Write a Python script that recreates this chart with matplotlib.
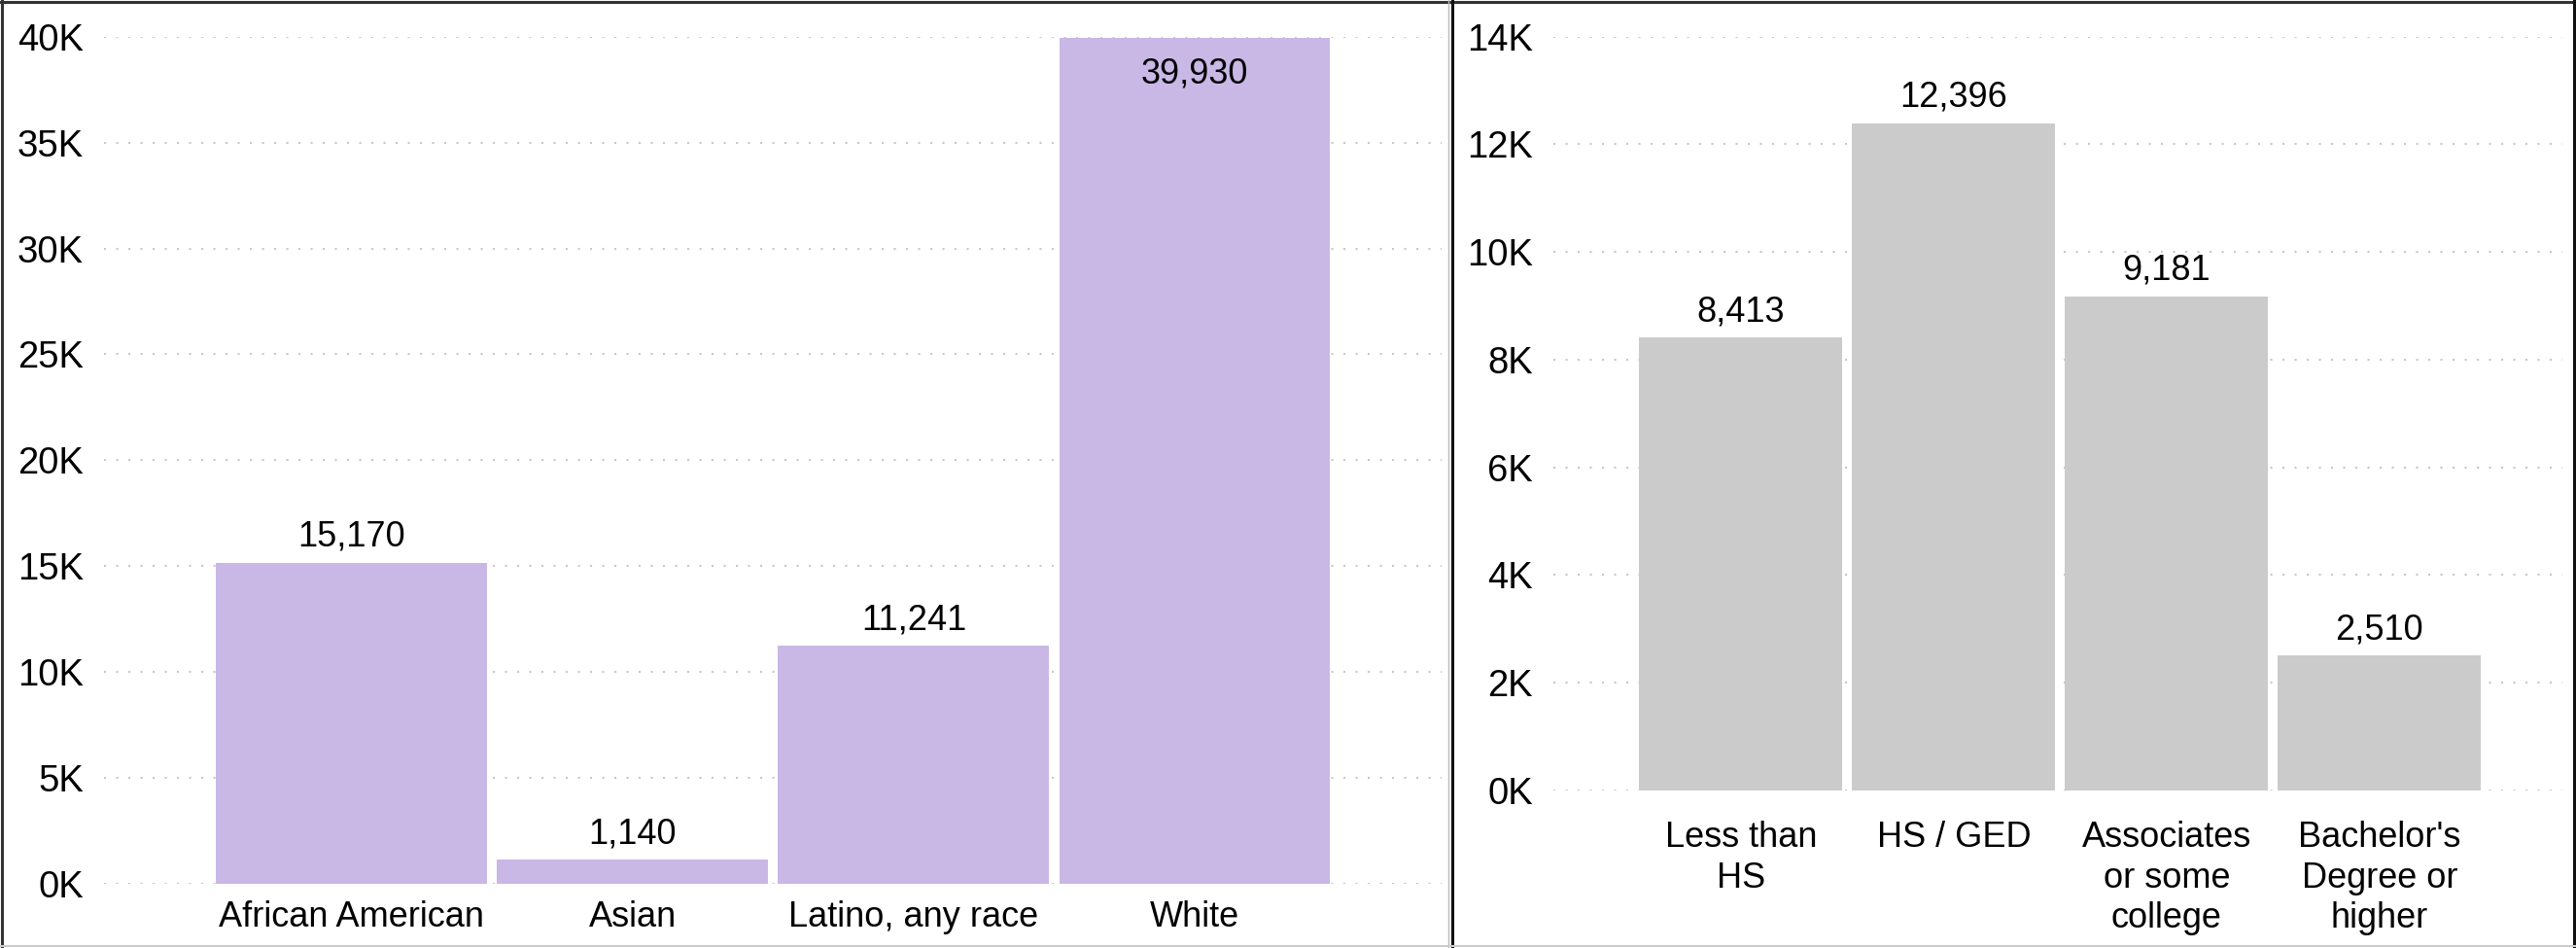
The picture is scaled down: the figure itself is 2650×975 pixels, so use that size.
import matplotlib
matplotlib.use('Agg')
import matplotlib.pyplot as plt
from matplotlib.lines import Line2D
from matplotlib.ticker import FuncFormatter

## data
race_cats = ['African American', 'Asian', 'Latino, any race', 'White']
race_vals = [15170, 1140, 11241, 39930]
edu_cats = ['Less than\nHS', 'HS / GED', 'Associates\nor some\ncollege', "Bachelor's\nDegree or\nhigher"]
edu_vals = [8413, 12396, 9181, 2510]

race_ticks = [0, 5000, 10000, 15000, 20000, 25000, 30000, 35000, 40000]
edu_ticks = [0, 2000, 4000, 6000, 8000, 10000, 12000, 14000]

# settings
W, H, DPI = 2650, 975, 100
purple = '#C9B8E6'
grey = '#CBCBCB'
grid_col = '#C8C8C8'

plt.rcParams.update({'font.size': 26, 'font.family': 'Liberation Sans'})
plt.close('all')
fig = plt.figure(figsize=(W / DPI, H / DPI), dpi=DPI)

# axes positions in pixels (left, right, y of zero, y of top tick)
ax1 = fig.add_axes([107 / W, (H - 909) / H, (1483 - 107) / W, (909 - 37.7) / H])
ax2 = fig.add_axes([1598 / W, (H - 813) / H, (2636 - 1598) / W, (813 - 37.7) / H])


def kfmt(v, pos):
    return '%dK' % int(round(v / 1000))


def draw(ax, cats, vals, ticks, color, width, xlim, lab_pad):
    x = range(len(cats))
    ax.bar(x, vals, width=width, color=color, zorder=2)
    ax.set_xlim(*xlim)
    ax.set_ylim(ticks[0], ticks[-1])
    ax.set_yticks(ticks)
    ax.yaxis.set_major_formatter(FuncFormatter(kfmt))
    ax.set_xticks(list(x))
    ax.set_xticklabels(cats)
    ax.tick_params(axis='both', length=0)
    ax.tick_params(axis='y', labelsize=27.5, pad=15)
    ax.tick_params(axis='x', labelsize=26, pad=lab_pad)
    for lbl in ax.get_xticklabels():
        lbl.set_linespacing(1.25)
    for s in ax.spines.values():
        s.set_visible(False)
    ax.set_axisbelow(True)
    ax.yaxis.grid(True, color=grid_col, lw=1.5, ls=(0, (1, 5)))
    ax.xaxis.grid(False)
    # value labels
    for i, v in enumerate(vals):
        if v > 0.95 * ticks[-1]:
            ax.annotate(f'{v:,}', (i, v), xytext=(0, -33), textcoords='offset points',
                        ha='center', va='baseline', fontsize=26)
        else:
            ax.annotate(f'{v:,}', (i, v), xytext=(0, 12.2), textcoords='offset points',
                        ha='center', va='baseline', fontsize=26)


draw(ax1, race_cats, race_vals, race_ticks, purple, 0.965, (-0.882, 3.879), 12.2)
draw(ax2, edu_cats, edu_vals, edu_ticks, grey, 0.954, (-0.881, 3.859), 22.3)

# panel borders
def px_line(x0, y0, x1, y1, c, lw):
    fig.add_artist(Line2D([x0 / W, x1 / W], [1 - y0 / H, 1 - y1 / H],
                          color=c, lw=lw, transform=fig.transFigure))

px_line(0, 1.5, W, 1.5, '#333333', 2.2)
px_line(1.5, 0, 1.5, H, '#333333', 2.2)
px_line(1490.5, 0, 1490.5, H, '#BBBBBB', 1)
px_line(1493.5, 0, 1493.5, H, '#111111', 2.2)
px_line(2647.5, 0, 2647.5, H, '#111111', 2.2)
px_line(0, 973, W, 973, '#CCCCCC', 1.5)

plt.savefig('out.png', dpi=DPI)
